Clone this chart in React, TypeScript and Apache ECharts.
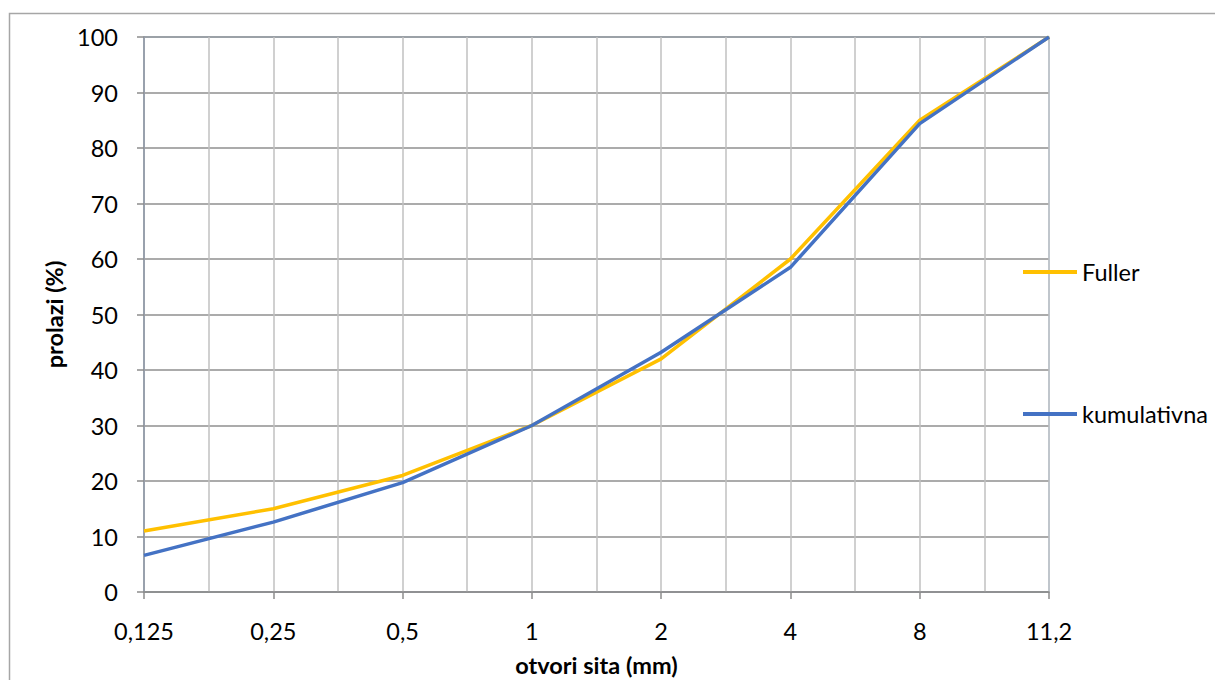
import React, { useEffect, useRef } from "react";
import * as echarts from "echarts";

const categories = ["0,125", "0,25", "0,5", "1", "2", "4", "8", "11,2"];
const fuller = [11, 15, 21, 30, 42, 60, 85, 100];
const kumulativna = [6.6, 12.6, 19.7, 30, 43.2, 58.5, 84.4, 100];
const yTicks = { min: 0, max: 100, interval: 10 };

const FONT = "Lato, 'Open Sans', sans-serif";
const FS = 23.5;

export default function App() {
  const ref = useRef<HTMLDivElement>(null);
  useEffect(() => {
    document.body.style.margin = "0";
    const chart = echarts.init(ref.current!, undefined, { renderer: "svg" });
    const toPts = (arr: number[]) => arr.map((v, i) => [i, v]);
    chart.setOption({
      animation: false,
      backgroundColor: "#fff",
      textStyle: { fontFamily: FONT },
      graphic: [
        {
          type: "rect",
          shape: { x: 9.5, y: 13.5, width: 1400, height: 900 },
          style: { fill: "none", stroke: "#a6a6a6", lineWidth: 1.5 },
          z: -10,
        },
      ],
      grid: {
        left: 144,
        right: 166,
        top: 37,
        bottom: 88,
        outerBoundsMode: "none",
        containLabel: false,
        show: true,
        borderColor: "#a9c8ec",
        borderWidth: 1.5,
        backgroundColor: "transparent",
      },
      legend: {
        orient: "vertical",
        left: 1023,
        top: 260,
        padding: 0,
        itemWidth: 54,
        itemHeight: 4,
        itemGap: 118,
        icon: "rect",
        textStyle: { fontSize: FS, color: "#000", fontFamily: FONT, lineHeight: 24 },
        data: ["Fuller", "kumulativna"],
      },
      xAxis: {
        type: "value",
        min: 0,
        max: categories.length - 1,
        interval: 1,
        name: "otvori sita (mm)",
        nameLocation: "middle",
        nameGap: 61,
        nameTextStyle: { fontSize: FS, fontWeight: "bold", color: "#000", fontFamily: FONT },
        axisLine: { show: true, lineStyle: { color: "#8c8c8c", width: 1.5 } },
        axisTick: { show: true, length: 7, lineStyle: { color: "#8c8c8c", width: 1.5 } },
        minorTick: { show: false, splitNumber: 2 },
        axisLabel: {
          fontSize: FS,
          color: "#000",
          margin: 27,
          fontFamily: FONT,
          formatter: (v: number) => categories[Math.round(v)] ?? "",
        },
        splitLine: { show: true, lineStyle: { color: "#c0c0c0", width: 1.5 } },
        minorSplitLine: { show: true, lineStyle: { color: "#c0c0c0", width: 1.5 } },
      },
      yAxis: {
        type: "value",
        min: yTicks.min,
        max: yTicks.max,
        interval: yTicks.interval,
        name: "prolazi (%)",
        nameLocation: "middle",
        nameGap: 76,
        nameTextStyle: { fontSize: FS, fontWeight: "bold", color: "#000", fontFamily: FONT },
        axisLine: { show: true, lineStyle: { color: "#8c95a3", width: 1.5 } },
        axisTick: { show: true, length: 7, lineStyle: { color: "#8c8c8c", width: 1.5 } },
        axisLabel: { fontSize: FS, color: "#000", margin: 26, fontFamily: FONT },
        splitLine: { show: true, lineStyle: { color: "#8f8f8f", width: 1.5 } },
      },
      series: [
        {
          name: "Fuller",
          type: "line",
          data: toPts(fuller),
          symbol: "none",
          lineStyle: { color: "#FFC000", width: 3.5 },
          itemStyle: { color: "#FFC000" },
        },
        {
          name: "kumulativna",
          type: "line",
          data: toPts(kumulativna),
          symbol: "none",
          lineStyle: { color: "#4472C4", width: 3.5 },
          itemStyle: { color: "#4472C4" },
        },
      ],
    });
    return () => chart.dispose();
  }, []);
  return <div ref={ref} style={{ width: 1215, height: 680 }} />;
}
